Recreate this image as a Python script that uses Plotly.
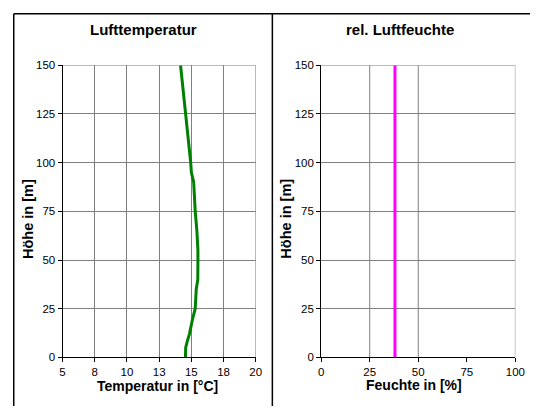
import plotly.graph_objects as go

# Data
height_m = [0, 5, 8, 12, 20, 25, 35, 40, 50, 55, 65, 75, 90, 95, 100, 125, 150]
temp_c = [14.54, 14.56, 14.67, 14.85, 15.1, 15.3, 15.38, 15.5, 15.51, 15.51, 15.43, 15.3, 15.18, 15.0, 14.95, 14.54, 14.16]
rh_height = [0, 150]
rh_pct = [38, 38]

temp_tickvals = [5, 7.5, 10, 12.5, 15, 17.5, 20]
temp_ticktext = ["5", "8", "10", "13", "15", "18", "20"]
rh_tickvals = [0, 25, 50, 75, 100]
rh_grid = [25, 50, 100]
h_tickvals = [0, 25, 50, 75, 100, 125, 150]

W, H = 540, 412
FONT = "Liberation Sans, Arial, sans-serif"

def px(x):
    return x / W

def py(y):
    return 1 - y / H

fig = go.Figure()
fig.add_trace(go.Scatter(x=temp_c, y=height_m, mode="lines",
                         line=dict(color="#008000", width=3), xaxis="x", yaxis="y",
                         showlegend=False))
fig.add_trace(go.Scatter(x=rh_pct, y=rh_height, mode="lines",
                         line=dict(color="#FF00FF", width=3), xaxis="x2", yaxis="y2",
                         showlegend=False))

grid = "#808080"
tickfont = dict(family=FONT, size=11.5, color="#000")
common_y = dict(range=[0, 150], tickvals=h_tickvals, showgrid=True, gridcolor=grid, gridwidth=1,
                zeroline=False, showline=True, linecolor="#000000", linewidth=1,
                ticks="outside", ticklen=4, tickcolor="#000000", tickfont=tickfont)

fig.update_layout(
    width=W, height=H, margin=dict(l=0, r=0, t=0, b=0),
    paper_bgcolor="white", plot_bgcolor="white",
    xaxis=dict(domain=[px(61), px(259)], range=[5, 20], tickvals=temp_tickvals, ticktext=temp_ticktext,
               showgrid=True, gridcolor=grid, gridwidth=1, zeroline=False,
               showline=True, linecolor="#000000", linewidth=1,
               ticks="outside", ticklen=4, tickcolor="#000000", tickfont=tickfont,
               anchor="y"),
    yaxis=dict(domain=[py(362), py(61)], anchor="x", **common_y),
    xaxis2=dict(domain=[px(326), px(525)], range=[0, 100], tickvals=rh_tickvals,
                showgrid=False, zeroline=False,
                showline=True, linecolor="#000000", linewidth=1,
                ticks="outside", ticklen=4, tickcolor="#000000", tickfont=tickfont,
                anchor="y2"),
    yaxis2=dict(domain=[py(362), py(61)], anchor="x2", **common_y),
)

shapes = []
# top/right frame of temperature plot
shapes.append(dict(type="line", xref="x", yref="y", x0=5, x1=20, y0=150, y1=150, line=dict(color=grid, width=1)))
shapes.append(dict(type="line", xref="x", yref="y", x0=20, x1=20, y0=0, y1=150, line=dict(color=grid, width=1)))
# humidity vertical grid and frame
for g in rh_grid:
    shapes.append(dict(type="line", xref="x2", yref="y2", x0=g, x1=g, y0=0, y1=150, line=dict(color=grid, width=1), layer="below"))
shapes.append(dict(type="line", xref="x2", yref="y2", x0=0, x1=100, y0=150, y1=150, line=dict(color=grid, width=1)))
# outer panel borders
bk = dict(color="#000000", width=1.5)
shapes.append(dict(type="line", xref="paper", yref="paper", x0=px(11), x1=px(11), y0=0, y1=py(8), line=bk))
shapes.append(dict(type="line", xref="paper", yref="paper", x0=px(11), x1=1, y0=py(8), y1=py(8), line=bk))
shapes.append(dict(type="line", xref="paper", yref="paper", x0=px(276), x1=px(276), y0=0, y1=py(8), line=bk))
fig.update_layout(shapes=shapes)

def label(text, x, y, size, angle=0):
    fig.add_annotation(text="<b>%s</b>" % text, x=px(x), y=py(y), xref="paper", yref="paper",
                       xanchor="center", yanchor="middle", textangle=angle,
                       showarrow=False, font=dict(family=FONT, size=size, color="#000"))

label("Lufttemperatur", 144, 24, 15)
label("rel. Luftfeuchte", 407, 24, 15)
label("Temperatur in [°C]", 158, 391, 14)
label("Feuchte in [%]", 421, 390, 14)
label("Höhe in [m]", 25, 219, 14.5, -90)
label("Höhe in [m]", 290, 219, 14.5, -90)

fig.write_html("out.html")
